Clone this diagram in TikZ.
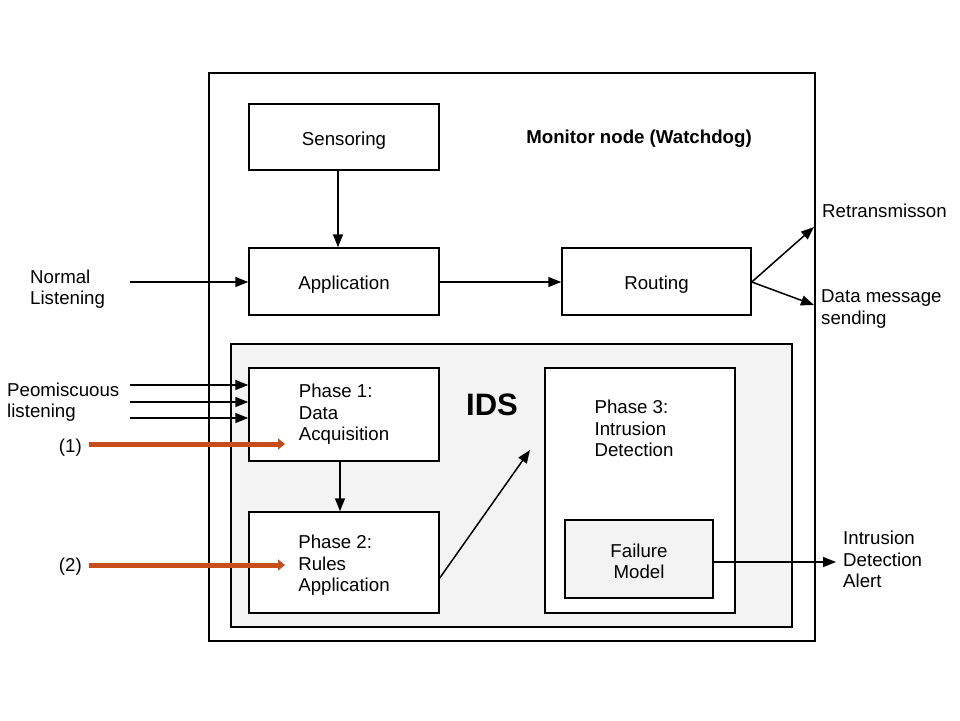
\documentclass[tikz,border=0pt]{standalone}
\usepackage{fontspec}
\setmainfont{Liberation Sans}
\usetikzlibrary{arrows.meta}
\definecolor{idsgray}{RGB}{243,243,243}
\definecolor{attack}{RGB}{198,78,26}
\begin{document}
\begin{tikzpicture}[x=1pt,y=-1pt,
  every node/.style={font=\fontsize{18.67}{21.5}\selectfont, inner sep=0pt},
  box/.style={draw, line width=1.5pt, align=left},
  onebox/.style={box, text height=16pt, text depth=0pt},
  txt/.style={align=left},
  conn/.style={line width=1.5pt, -{Triangle[length=13pt,width=10pt]}},
  hot/.style={draw=attack, line width=5pt, -{Triangle[length=7pt,width=11pt]}}]
\useasboundingbox (0,0) rectangle (960,720);
% outer monitor box
\node[box, minimum width=606, minimum height=568] (monitor) at (512,357) {};
\node[font=\fontsize{18.67}{21.5}\selectfont\bfseries] (mtitle) at (639,139) {Monitor node (Watchdog)};
% IDS area
\node[box, fill=idsgray, minimum width=561, minimum height=283] (ids) at (511.5,485.5) {};
\node[font=\fontsize{31}{36}\selectfont\bfseries] (idst) at (492,405) {IDS};
% boxes
\node[onebox, fill=white, minimum width=190, minimum height=66] (sens) at (344,137) {Sensoring};
\node[onebox, fill=white, minimum width=190, minimum height=67] (app) at (344,281.5) {Application};
\node[onebox, fill=white, minimum width=189, minimum height=67] (rout) at (656.5,281.5) {Routing};
\node[box, fill=white, minimum width=190, minimum height=93] (ph1) at (344,414.5) {Phase 1:\\Data\\Acquisition};
\node[box, fill=white, minimum width=190, minimum height=101] (ph2) at (344,562.5) {};
\node[txt] (ph2t) at (344,565.5) {Phase 2:\\Rules\\Application};
\node[box, fill=white, minimum width=190, minimum height=245] (ph3) at (640,490.5) {};
\node[txt] (ph3t) at (634,428.5) {Phase 3:\\Intrusion\\Detection};
\node[box, fill=idsgray, minimum width=148, minimum height=78] (fail) at (639,559) {};
\node[align=center] (failt) at (639,561.5) {Failure\\Model};
% outside labels
\node[txt, anchor=west] (normal) at (30,289) {Normal\\Listening};
\node[txt, anchor=west] (promis) at (7,402) {Peomiscuous\\listening};
\node[anchor=east] (one) at (82,448) {(1)};
\node[anchor=east] (two) at (82,567) {(2)};
\node[anchor=west] (retr) at (822,211) {Retransmisson};
\node[txt, anchor=west] (datam) at (821,309) {Data message\\sending};
\node[txt, anchor=west] (alert) at (843,559.5) {Intrusion\\Detection\\Alert};
% free ends
\coordinate (nl) at (130,282);
\coordinate (p1) at (130,385);
\coordinate (p2) at (130,402);
\coordinate (p3) at (130,418);
\coordinate (o1s) at (89,444);
\coordinate (o1e) at (285,444);
\coordinate (o2s) at (89,565);
\coordinate (o2e) at (285,565);
\coordinate (retrE) at (814,227);
\coordinate (dataE) at (814,305);
\coordinate (ph3in) at (530,450);
\coordinate (alertE) at (836,562);
% connectors
\draw[conn] (sens.south -| 338,0) -- (app.north -| 338,0);
\draw[conn] (app.east |- 0,282) -- (rout.west |- 0,282);
\draw[conn] (nl) -- (nl -| app.west);
\draw[conn] (p1) -- (p1 -| ph1.west);
\draw[conn] (p2) -- (p2 -| ph1.west);
\draw[conn] (p3) -- (p3 -| ph1.west);
\draw[conn] (rout.east |- 0,282) -- (retrE);
\draw[conn] (rout.east |- 0,282) -- (dataE);
\draw[conn] (ph1.south -| 340,0) -- (ph2.north -| 340,0);
\draw[conn] (ph2.east |- 0,578) -- (ph3in);
\draw[conn] (fail.east |- 0,562) -- (alertE);
\draw[hot] (o1s) -- (o1e);
\draw[hot] (o2s) -- (o2e);
\end{tikzpicture}
\end{document}
